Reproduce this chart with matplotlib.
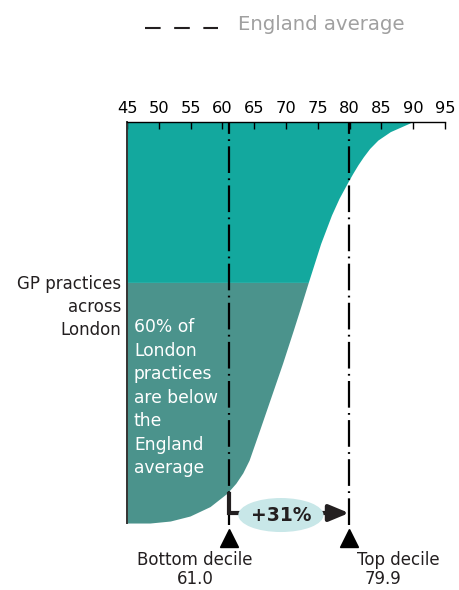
import numpy as np
import matplotlib
matplotlib.use("Agg")
import matplotlib.pyplot as plt
from matplotlib.lines import Line2D
from matplotlib.patches import Ellipse

# cumulative share of London GP practices vs score
share = [0.0, 0.005, 0.0175, 0.041, 0.074, 0.099, 0.125, 0.157, 0.232,
         0.315, 0.398, 0.481, 0.531, 0.6, 0.697, 0.768, 0.81, 0.851,
         0.872, 0.893, 0.913, 0.934, 0.955, 0.976, 0.997, 1.0]
score = [48.6, 51.8, 54.9, 58.05, 60.7, 62.1, 63.2, 64.2, 65.85,
         67.65, 69.45, 71.15, 72.15, 73.5, 75.45, 77.15, 78.35, 79.75,
         80.5, 81.3, 82.15, 83.15, 84.45, 86.4, 89.4, 89.8]

below_share = 0.6
deciles = [61.0, 79.9]
decile_names = ["Bottom decile", "Top decile"]
uplift = "+31%"
xticks = list(range(45, 100, 5))
note_lines = ["60% of", "London", "practices", "are below", "the",
              "England", "average"]
side_lines = ["GP practices", "across", "London"]

teal = "#13a89e"
teal_dark = "#4b938c"
ink = "#231f20"

W, H = 460, 590
fig = plt.figure(figsize=(W / 100, H / 100), dpi=100)
ax = fig.add_axes([127 / W, 0, 318 / W, 468 / H])
ax.set_xlim(45, 95)
ax.set_ylim(-0.167, 1)

def py(p):
    # pixel row -> data y
    return (523 - p) / 401

share = np.array(share)
score = np.array(score)
ax.fill_betweenx(share, 45, score, where=share <= below_share,
                 color=teal_dark, lw=0)
ax.fill_betweenx(share, 45, score, where=share >= below_share,
                 color=teal, lw=0)

# decile lines
for d in deciles:
    ax.plot([d, d], [py(525), 1], color="black", lw=1.6,
            linestyle=(0, (12, 2.4, 0.8, 2.4)), solid_capstyle="butt",
            zorder=3)
ax.plot(deciles, [py(538)] * 2, linestyle="none", marker="^",
        markersize=12.5, color="black", clip_on=False)

# arrow
ya = py(513)
ax.plot([deciles[0], deciles[0], deciles[1] - 2], [py(494), ya, ya],
        color=ink, lw=3, solid_joinstyle="miter", zorder=4)
ax.annotate("", xy=(deciles[1], ya), xytext=(deciles[1] - 3, ya),
            arrowprops=dict(arrowstyle="-|>,head_length=0.6,head_width=0.25",
                            mutation_scale=20, lw=3, color=ink,
                            shrinkA=0, shrinkB=0), zorder=4)
ax.add_patch(Ellipse((69.2, py(515)), 13.4, 34 / 401, color="#c8e7e8",
                     lw=0, zorder=5))
ax.text(69.2, py(515), uplift, ha="center", va="center", fontsize=13.5,
        fontweight="bold", color=ink, zorder=6)

# decile labels
for name, d, xc, xv in zip(decile_names, deciles, [55.7, 87.6], [55.7, 85.25]):
    ax.text(xc, py(565), name, ha="center", va="baseline", fontsize=12,
            color=ink, clip_on=False)
    ax.text(xv, py(584), f"{d:.1f}", ha="center", va="baseline",
            fontsize=12, color=ink, clip_on=False)

# in-chart note
for i, line in enumerate(note_lines):
    ax.text(46.1, py(332 + i * 23.5), line, ha="left", va="baseline",
            fontsize=12.3, color="white", zorder=6)

for i, line in enumerate(side_lines):
    ax.text(44.05, py(289 + i * 23), line, ha="right", va="baseline",
            fontsize=12, color=ink, clip_on=False)

# axes styling
ax.xaxis.tick_top()
ax.set_xticks(xticks)
ax.tick_params(axis="x", direction="in", length=5, width=1, pad=4.5,
               labelsize=11.7, colors="black")
ax.set_yticks([])
for s in ["bottom", "right"]:
    ax.spines[s].set_visible(False)
ax.spines["top"].set_linewidth(1)
ax.spines["left"].set_bounds(0, 1)
ax.spines["left"].set_color("#333333")
ax.spines["left"].set_linewidth(1.4)
ax.patch.set_alpha(0)

# legend
fig.add_artist(Line2D([145 / W, 218 / W], [1 - 28 / H] * 2, color=ink,
                      lw=1.5, linestyle=(0, (7.5, 6.5))))
fig.text(238 / W, 1 - 30 / H, "England average", ha="left", va="baseline",
         fontsize=14.2, color="#a0a0a0")

fig.savefig("out.png", dpi=100)
